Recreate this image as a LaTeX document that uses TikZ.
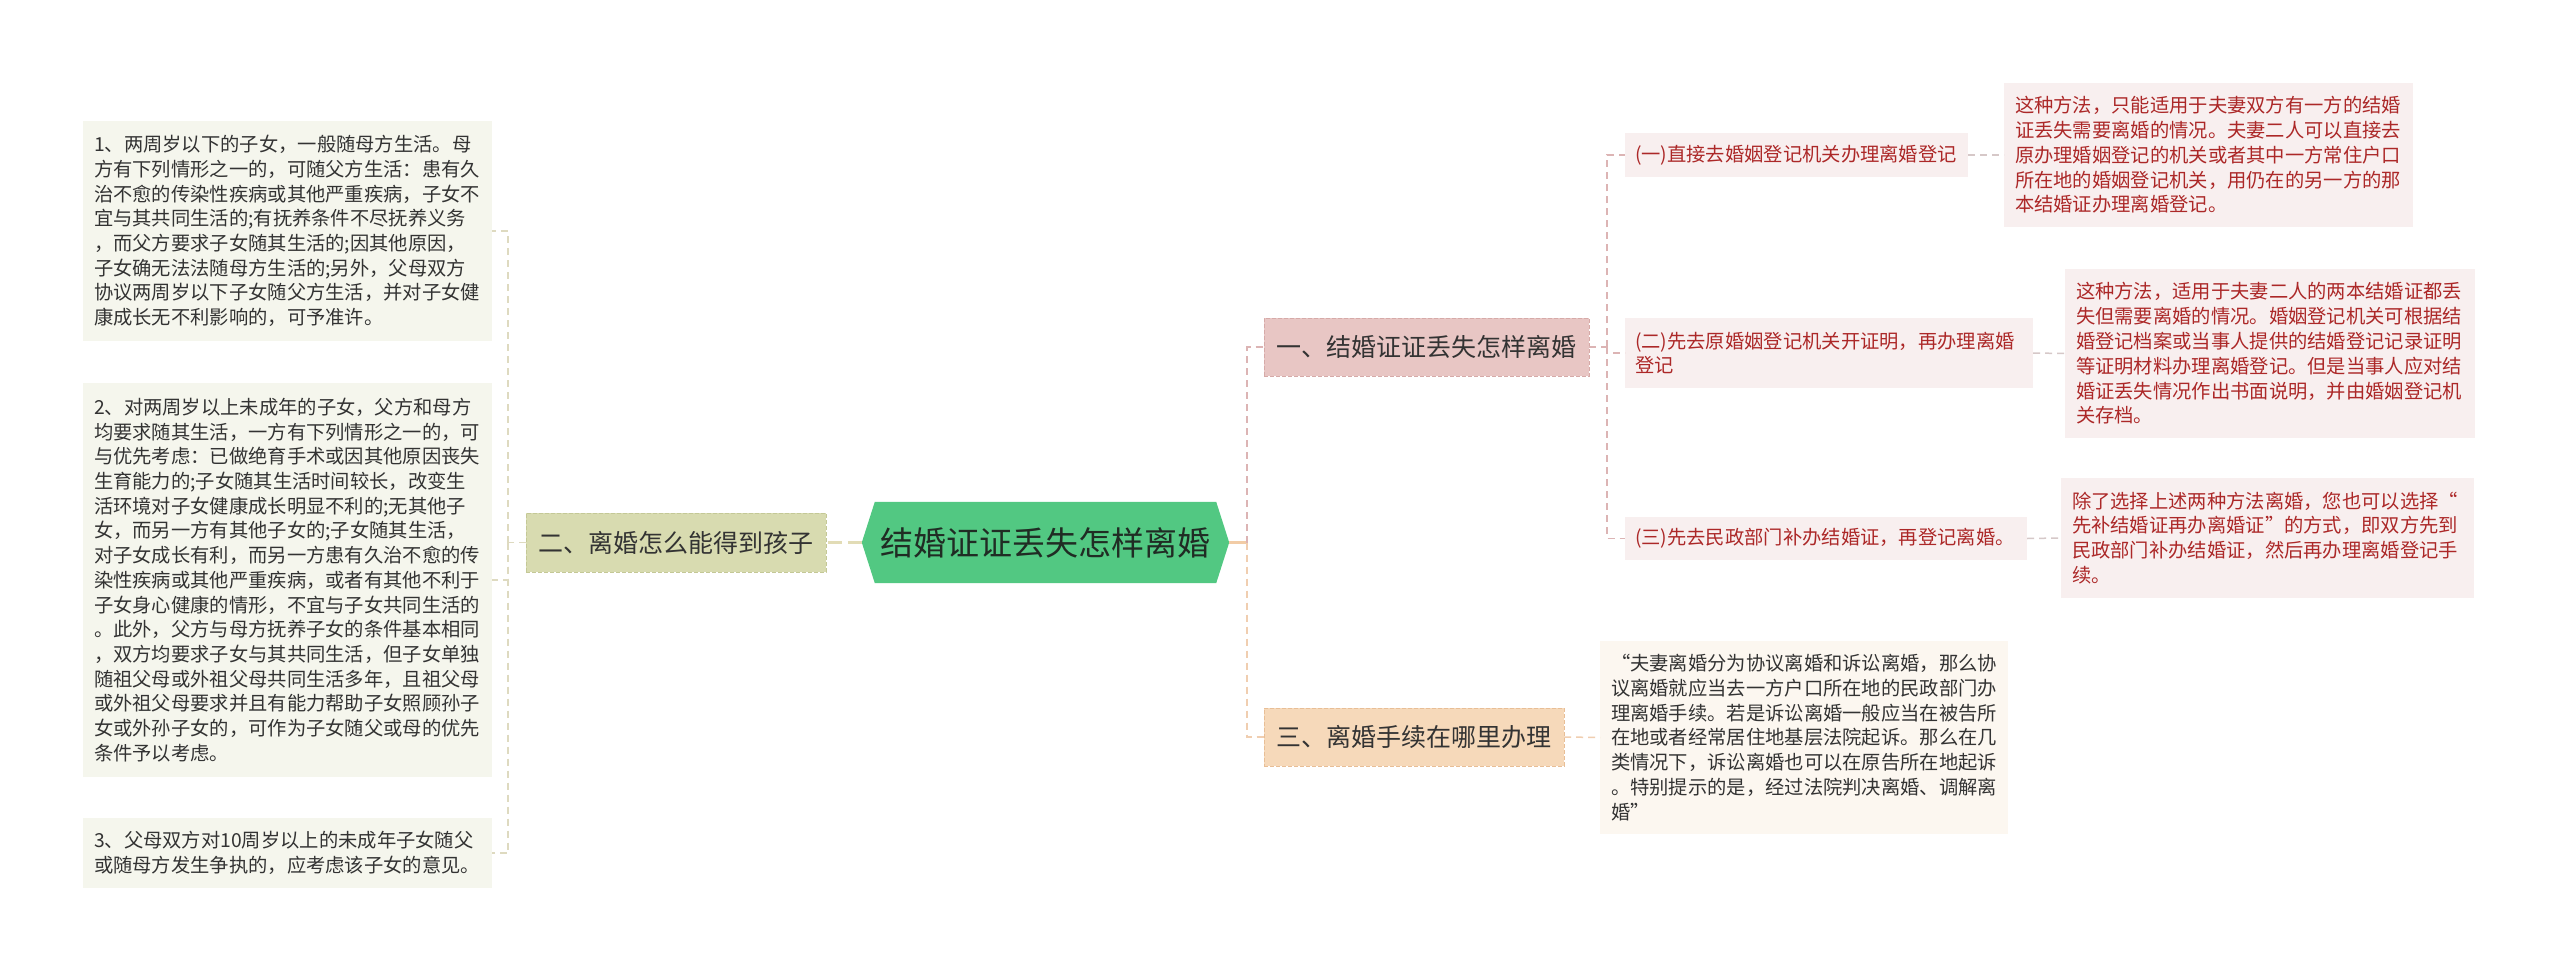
\documentclass[tikz,border=0pt]{standalone}
\usepackage{fontspec}
\setmainfont{Noto Sans CJK SC}
\usetikzlibrary{backgrounds}
\definecolor{cgreen}{RGB}{82,200,130}
\definecolor{ctext}{RGB}{32,44,36}
\definecolor{olivefill}{RGB}{216,219,176}
\definecolor{oliveedge}{RGB}{196,200,150}
\definecolor{leafL}{RGB}{245,246,237}
\definecolor{pinkfill}{RGB}{232,198,196}
\definecolor{pinkedge}{RGB}{214,170,168}
\definecolor{peachfill}{RGB}{246,217,186}
\definecolor{peachedge}{RGB}{232,190,150}
\definecolor{subfill}{RGB}{248,239,239}
\definecolor{leafP}{RGB}{252,247,240}
\definecolor{redtext}{RGB}{172,40,40}
\definecolor{darktext}{RGB}{51,51,51}
\definecolor{lconncol}{RGB}{222,218,192}
\definecolor{lthick}{RGB}{226,220,182}
\definecolor{rthick}{RGB}{242,204,166}
\definecolor{pinkconncol}{RGB}{220,180,180}
\definecolor{greyconncol}{RGB}{214,200,200}
\definecolor{peachconncol}{RGB}{240,206,176}
\tikzset{
  conn/.style={line width=1.5pt, dash pattern=on 7pt off 5pt},
  lconn/.style={conn, draw=lconncol},
  pconn/.style={conn, draw=pinkconncol},
  gconn/.style={conn, draw=greyconncol},
  aconn/.style={conn, draw=peachconncol},
  basebox/.style={anchor=north west, inner xsep=11pt, inner ysep=0pt, outer sep=0pt},
  leftleaf/.style={basebox, fill=leafL, text=darktext, align=left, font=\fontsize{19.3}{24.7}\selectfont},
  redleaf/.style={basebox, fill=subfill, text=redtext, align=left, font=\fontsize{19.3}{24.8}\selectfont},
  subbox/.style={basebox, inner xsep=10pt, fill=subfill, text=redtext, align=left, font=\fontsize{19.3}{24.8}\selectfont},
  peachleaf/.style={basebox, fill=leafP, text=darktext, align=left, font=\fontsize{19.3}{24.8}\selectfont},
  branchbox/.style={basebox, inner xsep=0pt, align=center, text=darktext, font=\fontsize{25}{30}\selectfont, line width=1pt, dash pattern=on 4pt off 2pt},
}
\begin{document}
\begin{tikzpicture}[x=1pt,y=-1pt]
\useasboundingbox (0,0) rectangle (2560,971);

% central topic
\node[inner sep=0pt, minimum width=367, minimum height=81, text=ctext,
      font=\fontsize{33}{38}\selectfont] (c) at (1045.5,542.5) {结婚证证丢失怎样离婚};
\begin{scope}[on background layer]
\fill[white] (0,0) rectangle (2560,971);
\fill[cgreen] (c.west) -- ([xshift=13pt]c.north west) -- ([xshift=-13pt]c.north east)
  -- (c.east) -- ([xshift=-13pt]c.south east) -- ([xshift=13pt]c.south west) -- cycle;
\end{scope}

% left branch
\node[branchbox, fill=olivefill, draw=oliveedge, minimum width=300, minimum height=59] (b2) at (526,513) {二、离婚怎么能得到孩子};

\node[leftleaf, minimum width=409, text width=387, minimum height=220] (l1) at (83,121) {1、两周岁以下的子女，一般随母方生活。母\\方有下列情形之一的，可随父方生活：患有久\\治不愈的传染性疾病或其他严重疾病，子女不\\宜与其共同生活的;有抚养条件不尽抚养义务\\，而父方要求子女随其生活的;因其他原因，\\子女确无法法随母方生活的;另外，父母双方\\协议两周岁以下子女随父方生活，并对子女健\\康成长无不利影响的，可予准许。};

\node[leftleaf, minimum width=409, text width=387, minimum height=394] (l2) at (83,383) {2、对两周岁以上未成年的子女，父方和母方\\均要求随其生活，一方有下列情形之一的，可\\与优先考虑：已做绝育手术或因其他原因丧失\\生育能力的;子女随其生活时间较长，改变生\\活环境对子女健康成长明显不利的;无其他子\\女，而另一方有其他子女的;子女随其生活，\\对子女成长有利，而另一方患有久治不愈的传\\染性疾病或其他严重疾病，或者有其他不利于\\子女身心健康的情形，不宜与子女共同生活的\\。此外，父方与母方抚养子女的条件基本相同\\，双方均要求子女与其共同生活，但子女单独\\随祖父母或外祖父母共同生活多年，且祖父母\\或外祖父母要求并且有能力帮助子女照顾孙子\\女或外孙子女的，可作为子女随父或母的优先\\条件予以考虑。};

\node[leftleaf, minimum width=409, text width=387, minimum height=70] (l3) at (83,818) {3、父母双方对10周岁以上的未成年子女随父\\或随母方发生争执的，应考虑该子女的意见。};

% right branches
\node[branchbox, fill=pinkfill, draw=pinkedge, minimum width=325, minimum height=58] (b1) at (1264,318) {一、结婚证证丢失怎样离婚};
\node[branchbox, fill=peachfill, draw=peachedge, minimum width=300, minimum height=58] (b3) at (1264,708) {三、离婚手续在哪里办理};

\node[subbox, minimum width=343, text width=323, minimum height=44] (s1) at (1625,133) {(一)直接去婚姻登记机关办理离婚登记};
\node[subbox, minimum width=408, text width=388, minimum height=70] (s2) at (1625,318) {(二)先去原婚姻登记机关开证明，再办理离婚\\登记};
\node[subbox, minimum width=402, text width=382, minimum height=43] (s3) at (1625,517) {(三)先去民政部门补办结婚证，再登记离婚。};

\node[redleaf, minimum width=409, text width=387, minimum height=144] (r1) at (2004,83) {这种方法，只能适用于夫妻双方有一方的结婚\\证丢失需要离婚的情况。夫妻二人可以直接去\\原办理婚姻登记的机关或者其中一方常住户口\\所在地的婚姻登记机关，用仍在的另一方的那\\本结婚证办理离婚登记。};
\node[redleaf, minimum width=410, text width=388, minimum height=169] (r2) at (2065,269) {这种方法，适用于夫妻二人的两本结婚证都丢\\失但需要离婚的情况。婚姻登记机关可根据结\\婚登记档案或当事人提供的结婚登记记录证明\\等证明材料办理离婚登记。但是当事人应对结\\婚证丢失情况作出书面说明，并由婚姻登记机\\关存档。};
\node[redleaf, minimum width=413, text width=391, minimum height=120] (r3) at (2061,478) {除了选择上述两种方法离婚，您也可以选择“\\先补结婚证再办离婚证”的方式，即双方先到\\民政部门补办结婚证，然后再办理离婚登记手\\续。};

\node[peachleaf, minimum width=408, text width=386, minimum height=193] (p3) at (1600,641) {“夫妻离婚分为协议离婚和诉讼离婚，那么协\\议离婚就应当去一方户口所在地的民政部门办\\理离婚手续。若是诉讼离婚一般应当在被告所\\在地或者经常居住地基层法院起诉。那么在几\\类情况下，诉讼离婚也可以在原告所在地起诉\\。特别提示的是，经过法院判决离婚、调解离\\婚”};

% connectors: left side
\coordinate (jl) at (508,542.5);
\draw[line width=2.5pt, draw=lthick, dash pattern=on 14pt off 6pt] (c.west) -- (b2.east);
\draw[lconn] (b2.west) -- (jl);
\draw[lconn] (jl) |- (l1.east);
\draw[lconn] (jl) |- (l2.east);
\draw[lconn] (jl) |- (l3.east);

% connectors: right side
\coordinate (jr) at (1247,542.5);
\draw[line width=2.5pt, draw=rthick] (c.east) -- (jr);
\draw[pconn] (jr) |- (b1.west);
\draw[aconn] (jr) |- (b3.west);

\coordinate (j1) at (1607,347);
\draw[pconn] (b1.east) -- (j1);
\draw[pconn] (j1) |- (s1.west);
\draw[pconn] (j1) |- (s2.west);
\draw[pconn] (j1) |- (s3.west);

\draw[gconn] (s1.east) -- (r1.west);
\draw[gconn] (s2.east) -- (r2.west);
\draw[gconn] (s3.east) -- (r3.west);
\draw[aconn] (b3.east) -- (p3.west);
\end{tikzpicture}
\end{document}
